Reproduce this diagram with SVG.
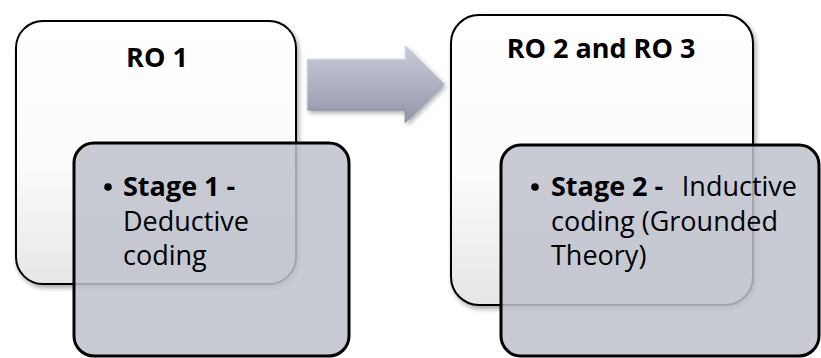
<svg xmlns="http://www.w3.org/2000/svg" width="821" height="358" viewBox="0 0 821 358">
<defs>
<linearGradient id="wg" x1="0" y1="0" x2="0" y2="1">
<stop offset="0" stop-color="#ffffff"/>
<stop offset="0.55" stop-color="#fbfbfb"/>
<stop offset="1" stop-color="#e6e6e6"/>
</linearGradient>
<linearGradient id="ag" x1="0" y1="0" x2="0" y2="1">
<stop offset="0" stop-color="#c9ccd8"/>
<stop offset="0.5" stop-color="#aeb2c3"/>
<stop offset="1" stop-color="#9195a8"/>
</linearGradient>
<filter id="sh" x="-10%" y="-10%" width="130%" height="130%">
<feGaussianBlur in="SourceAlpha" stdDeviation="2.5"/>
<feOffset dx="2" dy="3" result="b"/>
<feComponentTransfer><feFuncA type="linear" slope="0.35"/></feComponentTransfer>
<feMerge><feMergeNode/><feMergeNode in="SourceGraphic"/></feMerge>
</filter>
</defs>
<style>
.outer{fill:url(#wg);stroke:#000;stroke-width:2}
.inner{fill:#bfc2cc;fill-opacity:0.85;stroke:#000;stroke-width:3}
.t{font-family:"Open Sans","Liberation Sans",sans-serif;font-size:27px;fill:#000}
.b{font-weight:bold}
</style>
<g id="node-ro1">
<rect class="outer" x="16" y="21" width="280" height="263" rx="27" filter="url(#sh)"/>
<text class="t b" x="157" y="67" text-anchor="middle">RO 1</text>
</g>
<g id="connectors">
<polygon points="307,59 405,59 405,45 444,83.5 405,123 405,110 307,110" fill="url(#ag)" filter="url(#sh)"/>
<polyline points="307,110 405,110 405,123 444,83.5" fill="none" stroke="#7d8194" stroke-width="1" opacity="0.6"/>
<polyline points="307,110 307,59 405,59 405,45" fill="none" stroke="#e3e5ee" stroke-width="1.5" opacity="0.7"/>
</g>
<g id="node-ro23">
<rect class="outer" x="451" y="15" width="302" height="290" rx="28" filter="url(#sh)"/>
<text class="t b" x="601" y="58" text-anchor="middle">RO 2 and RO 3</text>
</g>
<g id="node-stage1">
<rect class="inner" x="74" y="143" width="275" height="213" rx="20"/>
<circle cx="108" cy="187" r="3.8" fill="#000"/>
<text class="t"><tspan class="b" x="123" y="196">Stage 1 -</tspan><tspan x="123" y="231">Deductive</tspan><tspan x="123" y="265">coding</tspan></text>
</g>
<g id="node-stage2">
<rect class="inner" x="501" y="145" width="318" height="211" rx="20"/>
<circle cx="535" cy="187" r="3.8" fill="#000"/>
<text class="t"><tspan class="b" x="551" y="196">Stage 2 -</tspan><tspan x="797" y="196" text-anchor="end">Inductive</tspan></text>
<text class="t"><tspan x="551" y="231">coding (Grounded</tspan><tspan x="551" y="265">Theory)</tspan></text>
</g>
</svg>
